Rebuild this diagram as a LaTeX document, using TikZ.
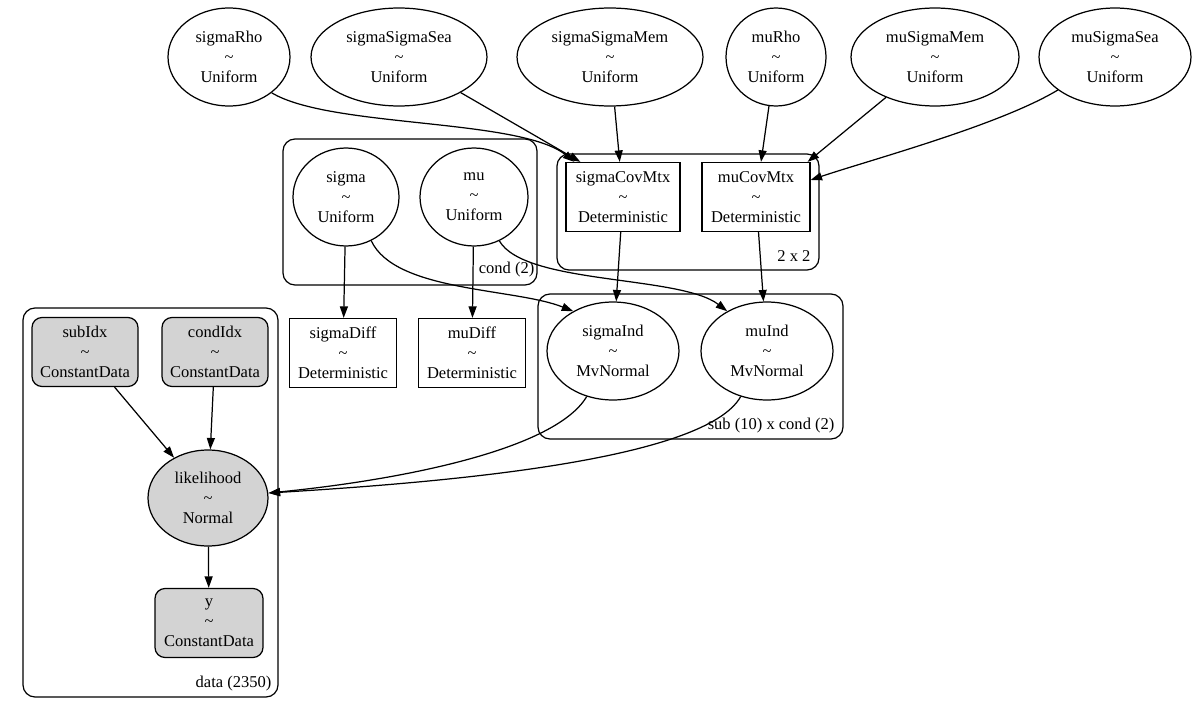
\documentclass[tikz,border=0pt]{standalone}
\usepackage{fontspec}
\setmainfont{Liberation Serif}
\usetikzlibrary{shapes.geometric,arrows.meta}
\definecolor{obsgrey}{HTML}{D3D3D3}

\begin{document}
\begin{tikzpicture}[
    x=0.02cm, y=-0.02cm, line width=0.7pt,
    every node/.style={align=center, inner sep=0pt, font=\fontsize{9.4}{11.3}\selectfont},
    rv/.style={draw, ellipse, minimum height=1.96cm},
    det/.style={draw, rectangle, minimum height=1.38cm},
    obs/.style={draw, rectangle, rounded corners=0.2cm, fill=obsgrey, minimum height=1.38cm},
    plate/.style={rounded corners=0.24cm},
    edge/.style={-{Triangle[length=0.23cm, width=0.16cm]}}
  ]
    \useasboundingbox (0,0) rectangle (1200,706);

    \draw[plate] (283,139) rectangle (537,285);
    \draw[plate] (557,154) rectangle (819,270);
    \draw[plate] (538,294) rectangle (843,439);
    \draw[plate] (23,308) rectangle (278,697);
    \node[anchor=east] (condLbl) at (535,270) {cond (2)};
    \node[anchor=east] (matLbl) at (811,256) {2 x 2};
    \node[anchor=east] (subLbl) at (835,426) {sub (10) x cond (2)};
    \node[anchor=east] (dataLbl) at (272,684) {data (2350)};

    \node[rv, minimum width=2.44cm] (sigmaRho) at (229,57) {sigmaRho\\\textasciitilde\\Uniform};
    \node[rv, minimum width=3.52cm] (sigmaSigmaSea) at (399,57) {sigmaSigmaSea\\\textasciitilde\\Uniform};
    \node[rv, minimum width=3.72cm] (sigmaSigmaMem) at (610,57) {sigmaSigmaMem\\\textasciitilde\\Uniform};
    \node[rv, minimum width=2.0cm] (muRho) at (776,57) {muRho\\\textasciitilde\\Uniform};
    \node[rv, minimum width=3.36cm] (muSigmaMem) at (935,57) {muSigmaMem\\\textasciitilde\\Uniform};
    \node[rv, minimum width=3.04cm] (muSigmaSea) at (1115,57) {muSigmaSea\\\textasciitilde\\Uniform};

    \node[rv, minimum width=2.12cm] (sigma) at (346,197) {sigma\\\textasciitilde\\Uniform};
    \node[rv, minimum width=2.16cm] (mu) at (474,197) {mu\\\textasciitilde\\Uniform};
    \node[det, minimum width=2.28cm] (sigmaCovMtx) at (623,197) {sigmaCovMtx\\\textasciitilde\\Deterministic};
    \node[det, minimum width=2.16cm] (muCovMtx) at (756,197) {muCovMtx\\\textasciitilde\\Deterministic};

    \node[det, minimum width=2.14cm] (sigmaDiff) at (343,353) {sigmaDiff\\\textasciitilde\\Deterministic};
    \node[det, minimum width=2.14cm] (muDiff) at (472,353) {muDiff\\\textasciitilde\\Deterministic};
    \node[rv, minimum width=2.64cm] (sigmaInd) at (613,351) {sigmaInd\\\textasciitilde\\MvNormal};
    \node[rv, minimum width=2.64cm] (muInd) at (767,351) {muInd\\\textasciitilde\\MvNormal};

    \node[obs, minimum width=2.12cm] (subIdx) at (85,352) {subIdx\\\textasciitilde\\ConstantData};
    \node[obs, minimum width=2.12cm] (condIdx) at (215,352) {condIdx\\\textasciitilde\\ConstantData};
    \node[rv, fill=obsgrey, minimum width=2.4cm, minimum height=1.92cm] (likelihood) at (208,498) {likelihood\\\textasciitilde\\Normal};
    \node[obs, minimum width=2.16cm] (y) at (209,623) {y\\\textasciitilde\\ConstantData};

    \draw[edge] (sigmaRho.-40) .. controls (330,128) and (520,118) .. ([xshift=0.18cm]sigmaCovMtx.north west);
    \draw[edge] (sigmaSigmaSea.-30) -- ([xshift=0.3cm]sigmaCovMtx.north west);
    \draw[edge] (sigmaSigmaMem) -- (sigmaCovMtx);
    \draw[edge] (muRho) -- (muCovMtx);
    \draw[edge] (muSigmaMem) -- ([xshift=-0.06cm]muCovMtx.north east);
    \draw[edge] (muSigmaSea.-150) .. controls (1000,125) and (870,160) .. ([yshift=0.34cm]muCovMtx.east);
    \draw[edge] (sigmaCovMtx) -- (sigmaInd);
    \draw[edge] (muCovMtx) -- (muInd);
    \draw[edge] (sigma) -- (sigmaDiff);
    \draw[edge] (mu) -- (muDiff);
    \draw[edge] (sigma.-60) .. controls (395,292) and (515,288) .. (sigmaInd.135);
    \draw[edge] (mu.-60) .. controls (525,285) and (680,275) .. (muInd.135);
    \draw[edge] (sigmaInd.-120) .. controls (555,450) and (400,480) .. ([yshift=0.1cm]likelihood.east);
    \draw[edge] (muInd.-120) .. controls (705,460) and (450,482) .. ([yshift=0.1cm]likelihood.east);
    \draw[edge] (subIdx) -- (likelihood);
    \draw[edge] (condIdx) -- (likelihood);
    \draw[edge] (likelihood) -- (y);
  \end{tikzpicture}
\end{document}
